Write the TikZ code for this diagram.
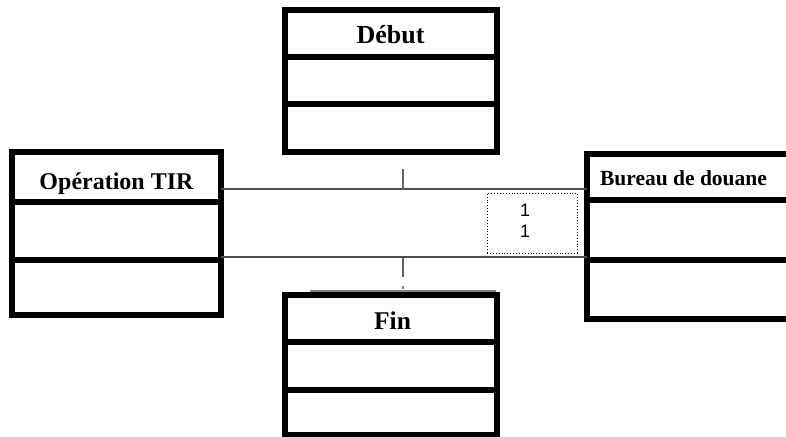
\documentclass[tikz,border=0pt]{standalone}
\usepackage{fontspec}
\setmainfont{Liberation Serif}
\newfontfamily\arialf{Liberation Sans}
\begin{document}
\begin{tikzpicture}[x=1pt,y=-1pt,
  classbox/.style={draw=black, line width=6pt, fill=white, rectangle, inner sep=0pt, outer sep=0pt},
  divider/.style={draw=black, line width=6pt},
  conn/.style={draw={rgb,255:red,80;green,80;blue,80}, line width=2.8pt},
  tick/.style={draw={rgb,255:red,100;green,100;blue,100}, line width=2.8pt},
  faint/.style={draw={rgb,255:red,130;green,130;blue,130}, line width=2pt},
  ttl/.style={anchor=base, inner sep=0pt, font=\bfseries\fontsize{#1}{#1}\selectfont},
  mult/.style={anchor=base, inner sep=0pt, font=\arialf\fontsize{18}{18}\selectfont}
]
\useasboundingbox (0,0) rectangle (786,436);
\fill[white] (0,0) rectangle (786,436);

% connector end points
\coordinate (tk1a) at (403,169);
\coordinate (tk1b) at (403,189);
\coordinate (tk2a) at (403,258);
\coordinate (tk2b) at (403,277);
\coordinate (dota) at (403,286);
\coordinate (dotb) at (403,289);
\coordinate (fla) at (310,291);
\coordinate (flb) at (496,291);

% boxes
\node[classbox, minimum width=212pt, minimum height=142pt] (debut) at (391,81) {};
\node[classbox, minimum width=209pt, minimum height=163pt] (oper) at (116.5,233.5) {};
\node[classbox, minimum width=213pt, minimum height=165pt] (bureau) at (693.5,236.5) {};

\draw[faint] (fla) -- (flb);
\node[classbox, minimum width=212pt, minimum height=140pt] (fin) at (391,364.5) {};

% dividers
\draw[divider] (debut.west |- 0,57) -- (debut.east |- 0,57);
\draw[divider] (debut.west |- 0,104) -- (debut.east |- 0,104);
\draw[divider] (oper.west |- 0,202) -- (oper.east |- 0,202);
\draw[divider] (oper.west |- 0,260) -- (oper.east |- 0,260);
\draw[divider] (bureau.west |- 0,200) -- (bureau.east |- 0,200);
\draw[divider] (bureau.west |- 0,260) -- (bureau.east |- 0,260);
\draw[divider] (fin.west |- 0,342) -- (fin.east |- 0,342);
\draw[divider] (fin.west |- 0,390) -- (fin.east |- 0,390);

% association lines
\draw[conn] (oper.east |- 0,189) -- (bureau.west |- 0,189);
\draw[conn] (oper.east |- 0,257) -- (bureau.west |- 0,257);
\draw[tick] (tk1a) -- (tk1b);
\draw[tick] (tk2a) -- (tk2b);
\draw[faint, line width=1.5pt] (dota) -- (dotb);

% multiplicity
\node[draw=black, dotted, line width=0.9pt, minimum width=90pt, minimum height=60pt, inner sep=0pt] (mbox) at (532,223) {};
\node[mult] (m1) at (525,216) {1};
\node[mult] (m2) at (525,237) {1};

% titles
\node[ttl=26] (tdebut) at (390.5,44) {Début};
\node[ttl=24] (toper) at (116.5,189) {Opération TIR};
\node[ttl=21.5] (tbureau) at (683.5,185) {Bureau de douane};
\node[ttl=25.5] (tfin) at (392.5,329) {Fin};
\end{tikzpicture}
\end{document}
